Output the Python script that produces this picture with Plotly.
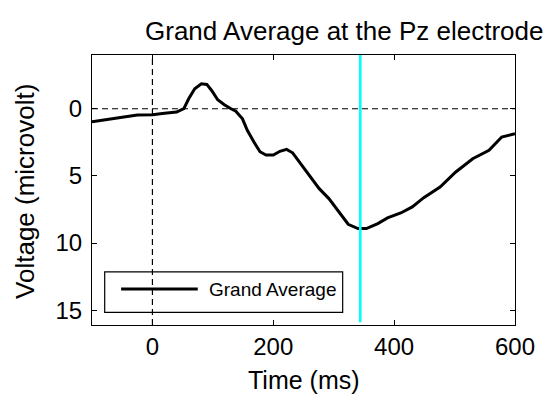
import plotly.graph_objects as go

# Data
time_ms = [-100, -75, -50, -25, 0, 20, 40, 52, 60, 70, 81, 90, 98, 108, 119, 130, 138,
           149, 157, 168, 178, 188, 200, 211, 222, 232, 243, 260, 276, 292, 308, 324,
           340, 354, 373, 389, 411, 430, 449, 476, 502, 530, 557, 578, 600]
voltage_uv = [0.97, 0.82, 0.63, 0.46, 0.44, 0.34, 0.25, 0.0, -0.74, -1.49, -1.86, -1.81,
              -1.36, -0.67, -0.3, 0.0, 0.18, 0.75, 1.6, 2.48, 3.2, 3.45, 3.45, 3.17, 3.03,
              3.28, 3.97, 4.96, 5.95, 6.69, 7.69, 8.6, 8.92, 8.92, 8.55, 8.13, 7.76, 7.31,
              6.62, 5.83, 4.71, 3.72, 3.1, 2.11, 1.86]
marker_time = [344, 344]
marker_volt = [-4, 15.9]

x_ticks = [0, 200, 400, 600]
y_ticks = [0, 5, 10, 15]
x_range = [-100, 600]
y_range = [16.1, -4]

title_text = "Grand Average at the Pz electrode"
x_title = "Time (ms)"
y_title = "Voltage (microvolt)"
legend_label = "Grand Average"

FONT = "Liberation Sans, Arial, sans-serif"

fig = go.Figure()
fig.add_trace(go.Scatter(x=time_ms, y=voltage_uv, mode="lines",
                         line=dict(color="black", width=3), showlegend=False,
                         name=legend_label))
fig.add_trace(go.Scatter(x=marker_time, y=marker_volt, mode="lines",
                         line=dict(color="#00FFFF", width=2.6), showlegend=False))

dash = "6px,4px"
fig.add_shape(type="line", xref="paper", yref="y", x0=0, x1=1, y0=0, y1=0,
              line=dict(color="black", width=1.2, dash=dash), layer="below")
fig.add_shape(type="line", xref="x", yref="paper", x0=0, x1=0, y0=0, y1=1,
              line=dict(color="black", width=1.2, dash=dash), layer="below")

# Legend (MATLAB-style box)
fig.add_shape(type="rect", xref="paper", yref="paper", x0=0.030, x1=0.5926,
              y0=0.047, y1=0.197, line=dict(color="black", width=1.2))
fig.add_shape(type="line", xref="paper", yref="paper", x0=0.0688, x1=0.25,
              y0=0.1333, y1=0.1333, line=dict(color="black", width=3))
fig.add_annotation(text=legend_label, xref="paper", yref="paper", x=0.271, y=0.1333,
                   xanchor="left", yanchor="middle", showarrow=False,
                   font=dict(family=FONT, size=19, color="black"))

fig.add_annotation(text=title_text, xref="paper", yref="paper", x=0.5955, y=1.089,
                   xanchor="center", yanchor="middle", showarrow=False,
                   font=dict(family=FONT, size=26, color="black"))
fig.add_annotation(text=x_title, xref="paper", yref="paper", x=0.5, y=-0.204,
                   xanchor="center", yanchor="middle", showarrow=False,
                   font=dict(family=FONT, size=25, color="black"))
fig.add_annotation(text=y_title, xref="paper", yref="paper", x=-0.16, y=0.494,
                   xanchor="center", yanchor="middle", showarrow=False, textangle=-90,
                   font=dict(family=FONT, size=26, color="black"))

axis_common = dict(showline=True, linecolor="black", linewidth=1.2, mirror="ticks",
                   ticks="inside", ticklen=5, tickwidth=1.2, tickcolor="black",
                   showgrid=False, zeroline=False,
                   tickfont=dict(family=FONT, size=24, color="black"))
fig.update_xaxes(range=x_range, tickvals=x_ticks, ticklabelstandoff=0, **axis_common)
fig.update_yaxes(range=y_range, tickvals=y_ticks, ticklabelstandoff=4, **axis_common)

fig.update_layout(width=547, height=394, margin=dict(l=92, r=23, t=55, b=69),
                  plot_bgcolor="white", paper_bgcolor="white",
                  font=dict(family=FONT, color="black"))

fig.write_html("out.html")
